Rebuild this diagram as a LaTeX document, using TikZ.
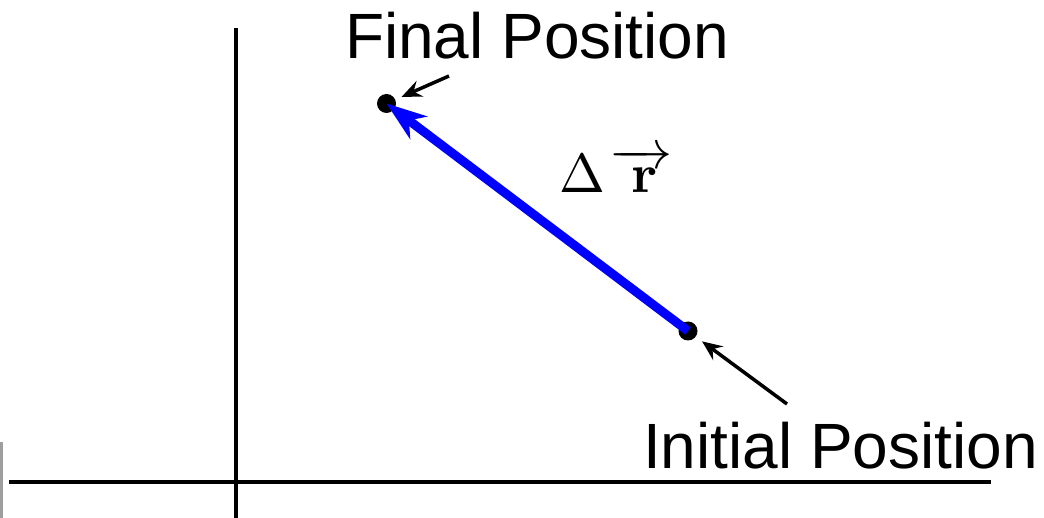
\documentclass[tikz,border=0pt]{standalone}
\usepackage{amsmath}
\usepackage[no-math]{fontspec}
\setmainfont{Liberation Sans}
\usepackage{graphicx}
\usetikzlibrary{arrows.meta}
\begin{document}
\begin{tikzpicture}[x=1pt,y=-1pt,
  axis/.style={line width=4pt,black},
  dotnode/.style={circle,fill=black,minimum size=19pt,inner sep=0pt,outer sep=0pt},
  label/.style={inner sep=0pt,outer sep=0pt,anchor=base west,font=\fontsize{64}{70}\selectfont},
  pointer/.style={line width=3.5pt,-{Stealth[length=20pt,width=17pt,inset=7pt]}},
  disp/.style={line width=9pt,blue,-{Stealth[length=40pt,width=28pt,inset=12pt]}}]
\useasboundingbox (0,0) rectangle (1044,518);
% stray gray edge
\draw[line width=2.7pt,color=black!38] (1.35,442) -- (1.35,518);
% axes
\coordinate (xa) at (9,482);
\coordinate (xb) at (991,482);
\coordinate (ya) at (235.5,28.3);
\coordinate (yb) at (235.5,518);
\draw[axis] (xa) -- (xb);
\draw[axis] (ya) -- (yb);
% points
\node[dotnode] (fin) at (386.5,103.5) {};
\node[dotnode] (init) at (688,331) {};
% displacement
\draw[disp] (init.center) -- (fin.center);
% labels
\node[label] (finlab) at (345,59) {Final Position};
\node[label] (initlab) at (643,468) {Initial Position};
\node[inner sep=0pt,outer sep=0pt,anchor=base west] (dr) at (559,193) {\scalebox{5.5}{$\Delta\mkern1.6mu\overrightarrow{\mkern7mu\mathbf{r}\mkern5mu}$}};
% pointers
\coordinate (pf) at (449,76);
\coordinate (pi) at (787,404);
\draw[pointer,shorten >=7pt] (pf) -- (fin);
\draw[pointer,shorten >=8pt] (pi) -- (init);
\end{tikzpicture}
\end{document}
